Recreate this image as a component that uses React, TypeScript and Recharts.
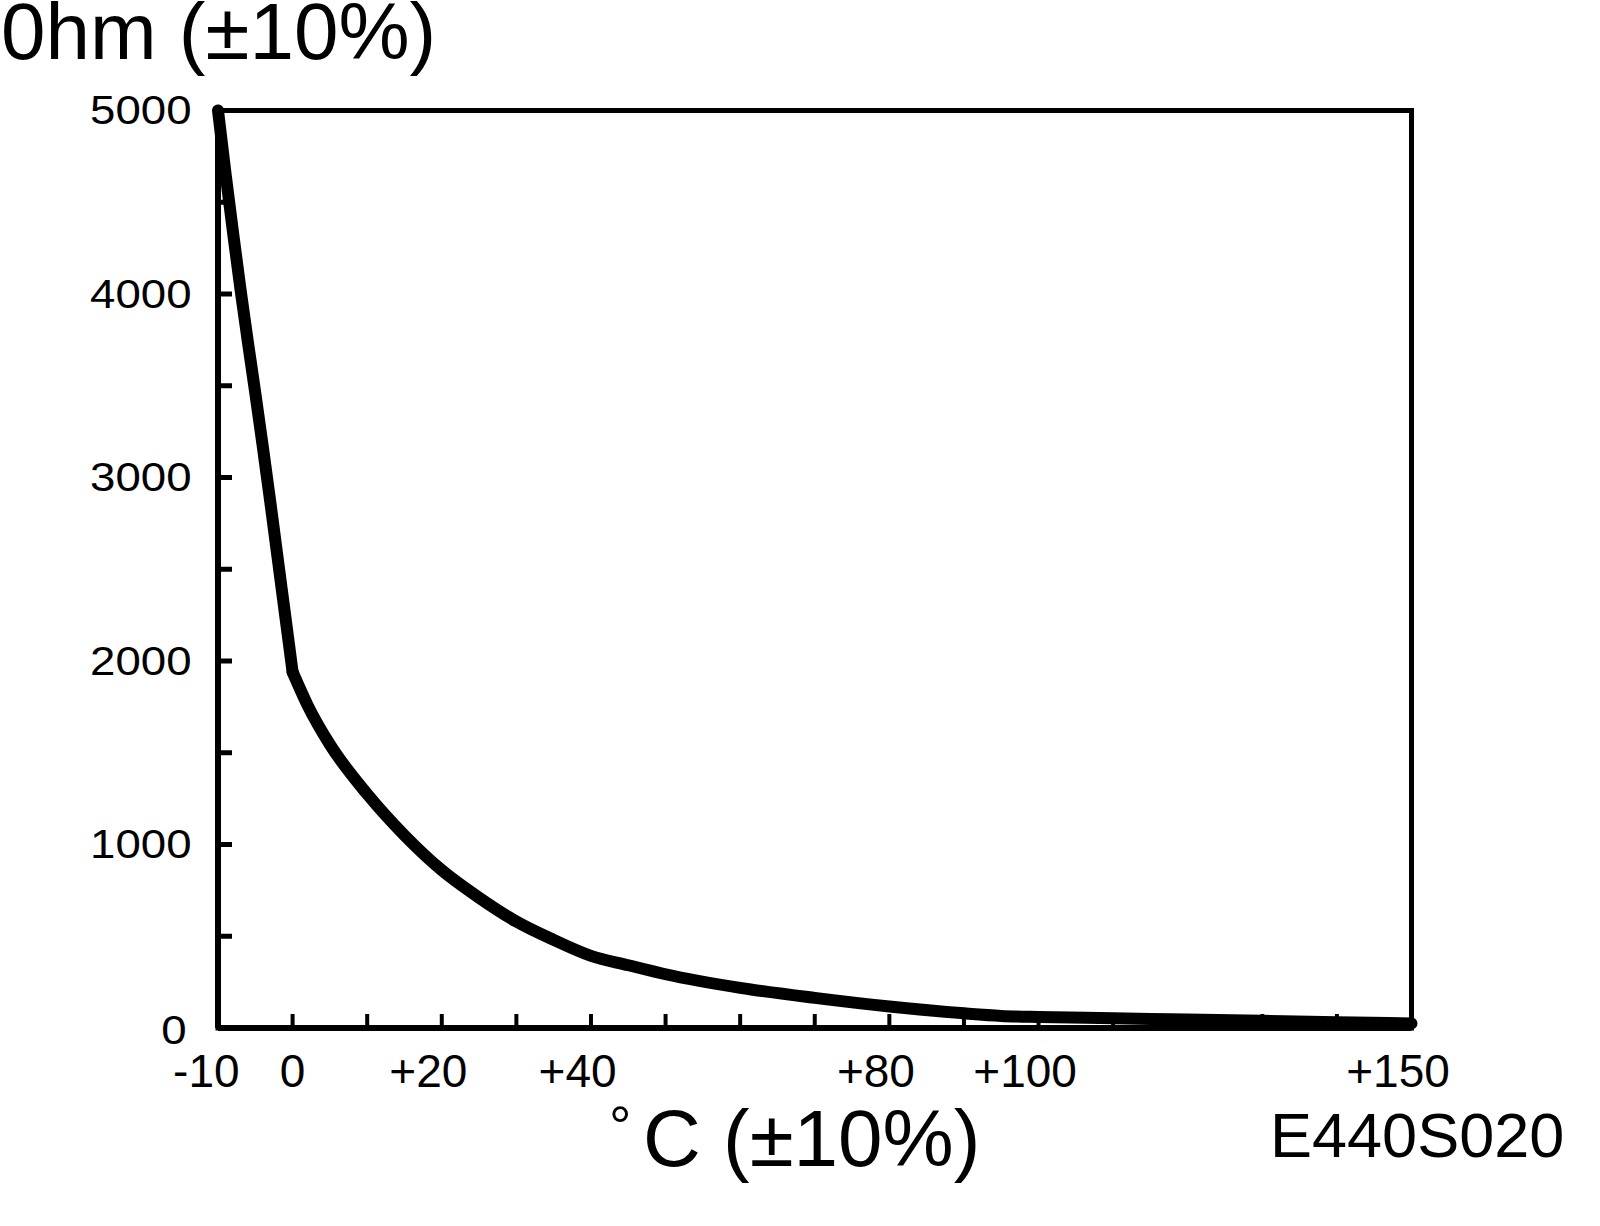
import React from 'react'
import { LineChart, Line, XAxis, YAxis, ReferenceArea } from 'recharts'

// resistance curve, split at the knee at 0 °C
const steepTemps = [-10, -9, -8, -7, -6, -5, -4, -3, -2, -1, 0]
const steepOhms = [5000, 4660, 4340, 4030, 3740, 3460, 3170, 2870, 2560, 2250, 1940]
const tailTemps = [0, 2, 5, 10, 15, 20, 25, 30, 35, 40, 45, 50, 60, 70, 80, 90, 95, 100, 110, 120, 130, 140, 150]
const tailOhms = [1940, 1760, 1545, 1275, 1050, 860, 710, 580, 480, 393, 342, 293, 219, 164, 117, 80, 66, 60, 53, 46, 39, 31, 25]

const xTicks = [-10, 0, 10, 20, 30, 40, 50, 60, 70, 80, 90, 100, 110, 120, 130, 140, 150]
const xLabels = [-10, 0, 20, 40, 80, 100, 150]
const yTicks = [0, 500, 1000, 1500, 2000, 2500, 3000, 3500, 4000, 4500, 5000]
const yLabels = [0, 1000, 2000, 3000, 4000, 5000]

const FONT = '"Liberation Sans", Arial, Helvetica, sans-serif'

const allTemps = Array.from(new Set([...steepTemps, ...tailTemps])).sort((a, b) => a - b)
const data = allTemps.map(t => {
  const i = steepTemps.indexOf(t)
  const j = tailTemps.indexOf(t)
  return { t, steep: i >= 0 ? steepOhms[i] : undefined, tail: j >= 0 ? tailOhms[j] : undefined }
})

function XTick(props: any) {
  const { x, y, payload } = props
  const v = payload.value
  const edge = v === -10 || v === 150
  const txt = v > 0 ? `+${v}` : `${v}`
  // digits centred on the tick, sign hangs to the left
  const sign = v > 0 ? 0.584 * 46 : v < 0 ? 0.333 * 46 + 8 : 0
  return (
    <g>
      {!edge && <line x1={x} x2={x} y1={y} y2={y - 14} stroke="#000" strokeWidth={4} />}
      {xLabels.includes(v) && (
        <text x={x - sign / 2} y={y + 59} textAnchor="middle" fontSize={46} fontFamily={FONT} fill="#000">
          {txt}
        </text>
      )}
    </g>
  )
}

function YTick(props: any) {
  const { x, y, payload } = props
  const v = payload.value
  const edge = v === 0 || v === 5000
  const tx = x - 26.5 - (v === 0 ? 5 : 0)
  const ty = y + 13.5 + (v === 0 ? 2 : 0)
  return (
    <g>
      {!edge && <line x1={x} x2={x + 14} y1={y} y2={y} stroke="#000" strokeWidth={5} />}
      {yLabels.includes(v) && (
        <text transform={`translate(${tx},${ty}) scale(1.14,1)`} textAnchor="end" fontSize={40} fontFamily={FONT} fill="#000">
          {v}
        </text>
      )}
    </g>
  )
}

export default function App() {
  return (
    <div style={{ position: 'absolute', left: 0, top: 0, width: 1600, height: 1226, background: '#fff' }}>
      <LineChart width={1600} height={1226} data={data} margin={{ top: 110.5, right: 188.5, bottom: 138, left: 0 }}>
        <ReferenceArea x1={-10} x2={150} y1={0} y2={5000} fill="none" stroke="#000" strokeWidth={5} />
        <XAxis
          dataKey="t"
          type="number"
          domain={[-10, 150]}
          ticks={xTicks}
          interval={0}
          height={60}
          tickSize={0}
          tickMargin={0}
          tickLine={false}
          axisLine={{ stroke: '#000', strokeWidth: 6 }}
          tick={<XTick />}
        />
        <YAxis
          type="number"
          domain={[0, 5000]}
          ticks={yTicks}
          interval={0}
          width={218}
          tickSize={0}
          tickMargin={0}
          tickLine={false}
          axisLine={{ stroke: '#000', strokeWidth: 6 }}
          tick={<YTick />}
        />
        <Line type="monotone" dataKey="steep" stroke="#000" strokeWidth={12} strokeLinecap="round" strokeLinejoin="round" dot={false} isAnimationActive={false} />
        <Line type="monotone" dataKey="tail" stroke="#000" strokeWidth={12} strokeLinecap="round" strokeLinejoin="round" dot={false} isAnimationActive={false} />
      </LineChart>
      <svg width={1600} height={1226} style={{ position: 'absolute', left: 0, top: 0, pointerEvents: 'none' }}>
        <text x={1} y={59} fontSize={80} fontFamily={FONT} fill="#000">0hm (±10%)</text>
        <text x={609} y={1145} fontSize={56} fontFamily={FONT} fill="#000">°</text>
        <text x={643} y={1166} fontSize={80} fontFamily={FONT} fill="#000">C (±10%)</text>
        <text x={1270} y={1157} fontSize={63} fontFamily={FONT} fill="#000">E440S020</text>
      </svg>
    </div>
  )
}
